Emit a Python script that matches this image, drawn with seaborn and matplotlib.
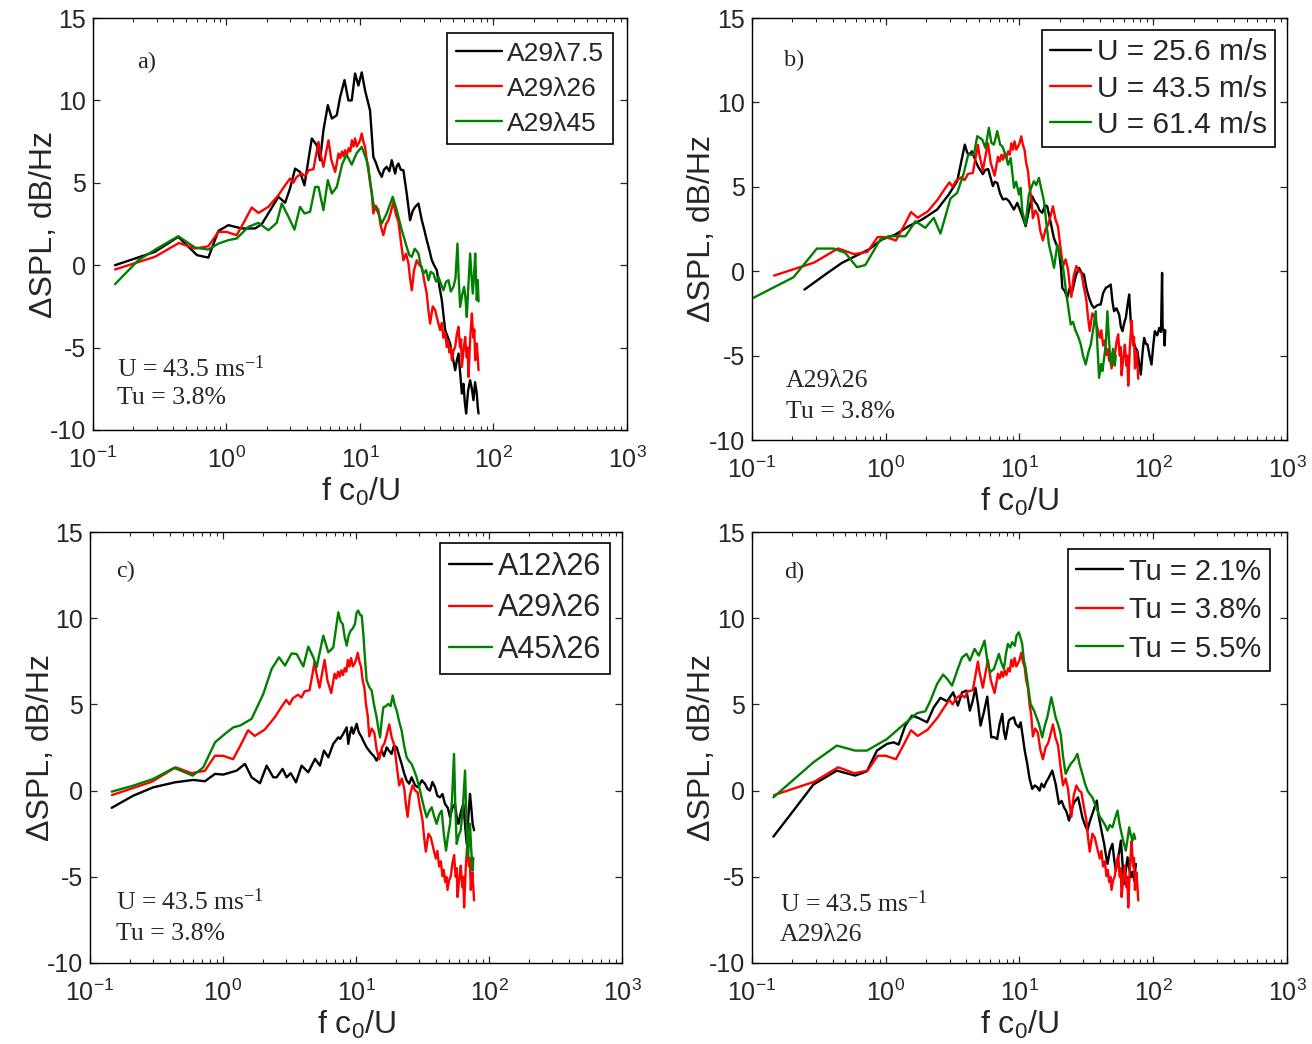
import numpy as np
import pandas as pd
import matplotlib
matplotlib.use("Agg")
import matplotlib.pyplot as plt
import seaborn as sns
from matplotlib.ticker import LogLocator, NullFormatter, FixedLocator
from matplotlib.lines import Line2D

# ---------------- data: (log10(f c0/U), dSPL dB/Hz) ----------------
# A29 lambda26, U = 43.5 m/s, Tu = 3.8 %  (same curve in all four panels)
red_base = [(-0.835,-0.26),(-0.536,0.51),(-0.356,1.35),(-0.236,1.01),(-0.136,1.15),(-0.061,2.02),(0.0,2.02),
    (0.076,1.82),(0.13,2.6),(0.189,3.5),(0.239,3.17),(0.314,3.54),(0.389,4.25),(0.439,4.85),(0.476,5.26),(0.50,5.0),
    (0.526,5.36),(0.564,5.56),(0.59,5.4),(0.614,5.76),(0.651,5.82),(0.689,7.48),(0.70,6.9),(0.726,5.97),(0.745,6.8),
    (0.764,7.58),(0.785,6.4),(0.814,5.66),(0.839,6.78),(0.852,6.5),(0.865,6.9),(0.877,6.6),(0.889,6.98),(0.902,6.7),
    (0.915,7.1),(0.927,6.9),(0.939,7.58),(0.951,7.2),(0.963,7.69),(0.976,7.2),(0.989,7.38),(1.001,7.6),(1.013,7.99),
    (1.025,7.5),(1.038,7.18),(1.05,6.4),(1.063,5.97),(1.075,5.0),(1.088,4.35),(1.100,3.14),(1.118,3.6),(1.138,3.34),
    (1.155,2.4),(1.175,1.82),(1.195,2.5),(1.213,2.73),(1.230,3.2),(1.250,3.84),(1.268,3.1),(1.288,2.63),(1.305,1.5),
    (1.325,0.30),(1.345,0.7),(1.363,0.10),(1.375,-0.8),(1.388,-1.52),(1.405,-0.3),(1.425,0.30),(1.445,0.0),
    (1.463,-0.10),(1.480,-0.9),(1.500,-1.72),(1.512,-2.7),(1.525,-3.54),(1.545,-2.5),(1.563,-2.73),(1.580,-3.3),
    (1.600,-3.94),(1.612,-3.5),(1.625,-4.4),(1.638,-4.1),(1.650,-4.96),(1.660,-4.6),(1.670,-5.3),(1.680,-5.0),
    (1.688,-5.76),(1.700,-5.2),(1.713,-4.96),(1.725,-4.2),(1.738,-3.74),(1.745,-4.6),(1.750,-5.0),(1.757,-4.5),
    (1.763,-6.17),(1.775,-5.2),(1.788,-4.35),(1.794,-5.1),(1.800,-5.6),(1.806,-5.0),(1.813,-6.78),(1.825,-4.5),
    (1.838,-2.93),(1.844,-3.8),(1.850,-4.4),(1.856,-3.9),(1.863,-5.76),(1.875,-4.75),(1.882,-5.6),(1.888,-6.37)]

# panel a) A29 lambda7.5 and A29 lambda45
a_lam75 = [(-0.835,0.0),(-0.536,0.81),(-0.361,1.72),(-0.221,0.61),(-0.136,0.46),(-0.061,2.08),(0.014,2.43),
    (0.114,2.23),(0.214,2.23),(0.264,2.49),(0.389,4.15),(0.439,3.79),(0.476,4.66),(0.514,5.86),(0.551,5.66),
    (0.584,4.85),(0.619,6.67),(0.639,7.69),(0.676,7.28),(0.701,6.37),(0.726,8.19),(0.759,9.71),(0.789,8.9),
    (0.826,9.1),(0.851,10.2),(0.884,11.23),(0.913,10.0),(0.938,10.0),(0.963,11.63),(0.988,10.9),(1.013,11.7),
    (1.038,10.6),(1.075,9.4),(1.100,6.57),(1.120,6.2),(1.138,5.76),(1.163,5.36),(1.180,5.8),(1.200,5.97),
    (1.220,5.7),(1.238,6.37),(1.263,5.56),(1.275,6.0),(1.288,6.17),(1.305,5.8),(1.325,5.76),(1.350,4.35),
    (1.375,2.73),(1.395,3.3),(1.413,3.54),(1.438,3.74),(1.463,2.73),(1.480,2.2),(1.500,1.52),(1.520,0.9),
    (1.538,0.30),(1.555,0.0),(1.575,-0.30),(1.595,-1.3),(1.613,-2.12),(1.625,-3.0),(1.638,-3.94),(1.655,-4.3),
    (1.675,-4.75),(1.695,-5.6),(1.713,-6.37),(1.725,-5.8),(1.738,-5.36),(1.750,-6.5),(1.763,-7.79),(1.775,-7.2),
    (1.785,-8.3),(1.795,-9.0),(1.810,-7.6),(1.825,-6.98),(1.838,-7.5),(1.850,-8.19),(1.862,-7.1),(1.875,-7.79),
    (1.882,-8.6),(1.888,-9.0)]
a_lam45 = [(-0.835,-1.15),(-0.661,0.30),(-0.521,1.01),(-0.361,1.76),(-0.236,1.07),(-0.136,0.95),(-0.061,1.31),
    (0.014,1.52),(0.076,1.62),(0.164,2.33),(0.239,2.57),(0.314,2.12),(0.376,2.57),(0.414,3.74),(0.464,2.94),
    (0.509,2.16),(0.551,3.54),(0.584,3.14),(0.626,3.24),(0.664,4.75),(0.689,4.75),(0.726,3.34),(0.759,5.16),
    (0.789,4.35),(0.826,4.75),(0.868,6.17),(0.900,6.7),(0.938,6.1),(0.975,6.8),(1.013,7.18),(1.050,6.37),
    (1.075,5.16),(1.100,3.74),(1.138,3.14),(1.163,2.53),(1.200,3.14),(1.245,4.15),(1.275,3.34),(1.313,2.12),
    (1.350,1.11),(1.370,0.6),(1.388,0.51),(1.410,1.0),(1.438,0.71),(1.455,0.0),(1.475,-0.51),(1.495,-0.3),
    (1.513,-0.91),(1.530,-0.4),(1.550,-0.51),(1.570,-1.0),(1.588,-0.71),(1.605,-1.1),(1.625,-1.52),(1.645,-1.0),
    (1.663,-0.91),(1.680,-1.6),(1.700,-1.31),(1.715,-0.8),(1.730,1.31),(1.740,-0.9),(1.750,-2.53),(1.765,-1.8),
    (1.780,-1.31),(1.790,-2.0),(1.800,-3.14),(1.812,-1.2),(1.825,0.71),(1.835,-0.6),(1.845,-1.72),(1.855,-0.5),
    (1.863,0.71),(1.870,-1.0),(1.875,-2.12),(1.882,-0.9),(1.888,-2.2)]

# panel b) U = 25.6 m/s and U = 61.4 m/s
b_u256 = [(-0.608,-1.09),(-0.453,-0.20),(-0.328,0.49),(-0.228,0.89),(-0.128,1.28),(-0.028,1.88),(0.072,2.17),
    (0.172,2.67),(0.271,3.06),(0.384,3.65),(0.471,4.54),(0.534,5.33),(0.591,7.5),(0.61,7.0),(0.626,6.93),
    (0.645,7.1),(0.671,6.54),(0.69,6.2),(0.726,5.75),(0.745,6.0),(0.766,6.05),(0.785,5.5),(0.801,5.04),(0.815,5.3),
    (0.834,5.23),(0.855,4.6),(0.876,4.25),(0.90,4.3),(0.921,4.15),(0.94,3.9),(0.958,3.65),(0.983,4.05),(1.0,3.7),
    (1.021,3.26),(1.046,2.67),(1.07,3.6),(1.095,4.44),(1.115,4.1),(1.132,3.95),(1.150,3.6),(1.170,3.46),(1.190,3.9),
    (1.207,3.85),(1.230,3.0),(1.257,1.97),(1.275,1.6),(1.295,1.18),(1.310,0.2),(1.320,-0.99),(1.340,-1.2),
    (1.357,-1.58),(1.375,-1.0),(1.395,-1.18),(1.420,-0.3),(1.445,0.20),(1.465,-0.1),(1.482,-0.2),(1.50,-1.0),
    (1.520,-1.58),(1.540,-2.0),(1.557,-2.17),(1.585,-2.0),(1.607,-1.97),(1.625,-1.3),(1.645,-0.99),(1.665,-0.9),
    (1.682,-0.79),(1.695,-1.8),(1.707,-2.37),(1.725,-2.2),(1.745,-2.57),(1.758,-3.3),(1.770,-3.55),(1.785,-3.0),
    (1.795,-2.76),(1.808,-2.0),(1.820,-1.38),(1.832,-3.0),(1.845,-3.95),(1.865,-4.5),(1.882,-4.74),(1.895,-5.5),
    (1.907,-6.12),(1.92,-4.8),(1.932,-3.95),(1.945,-4.3),(1.957,-4.34),(1.972,-5.0),(1.987,-5.53),(2.000,-4.4),
    (2.012,-3.55),(2.030,-3.8),(2.045,-3.36),(2.058,-3.6),(2.066,-0.1),(2.070,-3.3),(2.080,-3.6),(2.085,-4.4),
    (2.09,-3.5)]
b_u614 = [(-0.99,-1.58),(-0.690,-0.36),(-0.515,1.34),(-0.390,1.34),(-0.303,1.09),(-0.216,0.24),(-0.153,0.36),
    (-0.041,1.88),(0.022,2.07),(0.147,2.07),(0.222,2.96),(0.296,2.57),(0.359,3.16),(0.409,2.23),(0.484,4.31),
    (0.534,4.64),(0.584,5.82),(0.616,6.9),(0.659,6.9),(0.684,8.0),(0.721,7.8),(0.746,7.3),(0.771,8.5),(0.79,7.6),
    (0.809,7.5),(0.834,8.3),(0.855,7.5),(0.871,7.4),(0.896,6.9),(0.915,6.3),(0.934,6.7),(0.959,4.94),(0.975,5.3),
    (0.996,4.54),(1.008,4.94),(1.021,3.56),(1.045,2.76),(1.070,4.54),(1.090,5.0),(1.108,5.33),(1.125,5.1),
    (1.145,5.53),(1.165,4.8),(1.183,4.15),(1.20,2.9),(1.220,1.58),(1.240,0.9),(1.258,0.2),(1.283,1.58),(1.300,1.0),
    (1.320,0.59),(1.340,-0.7),(1.358,-1.78),(1.383,-3.16),(1.40,-3.0),(1.420,-3.55),(1.440,-3.9),(1.458,-4.34),
    (1.475,-5.0),(1.495,-5.53),(1.515,-4.8),(1.533,-4.34),(1.550,-3.5),(1.570,-2.37),(1.583,-4.5),(1.595,-6.32),
    (1.610,-5.5),(1.620,-5.92),(1.635,-5.0),(1.645,-4.34),(1.657,-2.37),(1.670,-4.2),(1.683,-5.53),(1.70,-4.6),
    (1.712,-5.6),(1.72,-5.0)]

# panel c) A12 lambda26 and A45 lambda26
c_a12 = [(-0.837,-1.0),(-0.674,-0.29),(-0.524,0.19),(-0.361,0.48),(-0.223,0.62),(-0.136,0.54),(-0.060,0.97),
    (0.002,0.93),(0.103,1.16),(0.165,1.55),(0.215,0.77),(0.278,0.43),(0.328,1.45),(0.378,0.77),(0.403,0.77),
    (0.448,1.26),(0.478,0.77),(0.509,1.01),(0.549,0.48),(0.591,1.45),(0.641,1.06),(0.692,1.84),(0.729,1.45),
    (0.759,2.32),(0.792,1.93),(0.829,2.71),(0.867,3.09),(0.880,3.0),(0.904,3.29),(0.930,3.67),(0.942,2.71),
    (0.955,3.3),(0.967,3.67),(0.980,3.3),(1.005,3.87),(1.020,3.4),(1.043,3.09),(1.060,2.8),(1.080,2.51),(1.100,2.3),
    (1.118,2.13),(1.135,2.0),(1.155,1.74),(1.175,2.1),(1.193,2.32),(1.210,2.0),(1.231,2.51),(1.250,2.3),
    (1.268,2.13),(1.285,2.6),(1.306,2.51),(1.325,2.0),(1.343,1.55),(1.362,1.0),(1.381,0.58),(1.400,0.4),
    (1.418,0.77),(1.445,0.3),(1.468,0.19),(1.495,0.6),(1.519,0.39),(1.538,0.1),(1.556,0.0),(1.575,0.5),
    (1.594,0.19),(1.612,-0.3),(1.631,-0.39),(1.650,-0.2),(1.669,-0.77),(1.690,-1.0),(1.707,-1.55),(1.725,-1.0),
    (1.744,-0.77),(1.757,-1.5),(1.770,-1.93),(1.790,-1.2),(1.807,-0.77),(1.820,-2.0),(1.832,-3.09),(1.845,-1.5),
    (1.857,-0.19),(1.867,-1.0),(1.877,-1.93),(1.888,-2.3)]
c_a45 = [(-0.837,-0.06),(-0.674,0.29),(-0.524,0.68),(-0.368,1.32),(-0.228,0.87),(-0.148,1.35),(-0.060,2.8),
    (0.015,3.29),(0.078,3.67),(0.128,3.77),(0.215,4.16),(0.303,5.61),(0.366,7.06),(0.421,7.73),(0.466,7.25),
    (0.516,7.96),(0.554,7.92),(0.604,7.2),(0.641,8.35),(0.679,7.73),(0.704,7.16),(0.754,8.99),(0.792,8.02),
    (0.829,8.3),(0.867,10.34),(0.885,9.8),(0.900,9.66),(0.915,8.9),(0.930,8.41),(0.945,9.0),(0.960,9.28),
    (0.975,9.4),(0.992,9.66),(1.005,10.34),(1.017,10.44),(1.030,10.2),(1.043,10.15),(1.055,9.09),(1.068,7.6),
    (1.080,6.38),(1.100,6.0),(1.118,5.8),(1.135,5.0),(1.155,4.25),(1.168,3.6),(1.181,3.09),(1.195,4.2),
    (1.206,4.83),(1.225,4.9),(1.243,5.03),(1.260,4.9),(1.276,5.51),(1.290,5.0),(1.306,4.64),(1.325,4.0),
    (1.343,3.48),(1.362,2.6),(1.381,1.93),(1.400,1.7),(1.418,1.55),(1.436,1.2),(1.456,0.77),(1.475,0.2),
    (1.493,-0.39),(1.512,-1.0),(1.531,-1.55),(1.550,-1.2),(1.569,-0.97),(1.588,-1.5),(1.606,-1.93),(1.625,-1.4),
    (1.644,-1.16),(1.660,-2.5),(1.677,-3.48),(1.692,-2.6),(1.707,-1.93),(1.722,-0.5),(1.737,2.13),(1.747,-1.0),
    (1.757,-3.09),(1.772,-2.6),(1.787,-2.32),(1.803,-1.0),(1.820,1.16),(1.830,-1.5),(1.840,-3.87),(1.850,-3.0),
    (1.857,-1.93),(1.867,-3.5),(1.877,-4.64),(1.882,-3.9)]

# panel d) Tu = 2.1 % and Tu = 5.5 %
d_tu21 = [(-0.840,-2.67),(-0.690,-1.16),(-0.541,0.35),(-0.366,1.16),(-0.229,0.87),(-0.141,1.12),(-0.066,2.32),
    (0.009,2.71),(0.059,2.8),(0.096,2.67),(0.146,3.77),(0.196,4.35),(0.246,4.21),(0.309,3.96),(0.359,4.83),
    (0.409,5.38),(0.459,5.18),(0.504,5.7),(0.539,4.93),(0.571,5.7),(0.604,5.8),(0.629,4.64),(0.650,5.2),
    (0.671,5.96),(0.690,5.0),(0.709,3.77),(0.735,4.6),(0.759,5.45),(0.775,4.2),(0.789,3.09),(0.810,3.1),
    (0.833,2.99),(0.850,3.8),(0.871,4.45),(0.883,3.48),(0.896,2.99),(0.920,4.06),(0.933,4.16),(0.958,4.25),
    (0.971,3.87),(0.995,3.67),(1.009,3.96),(1.025,3.1),(1.039,2.32),(1.058,1.55),(1.075,0.7),(1.095,0.10),
    (1.115,0.3),(1.133,0.19),(1.150,0.0),(1.165,0.4),(1.183,0.19),(1.200,0.5),(1.220,0.77),(1.245,1.16),
    (1.270,0.39),(1.295,-0.77),(1.315,-0.6),(1.333,-0.97),(1.350,-1.2),(1.370,-1.74),(1.390,-1.1),(1.408,-0.68),
    (1.438,-0.39),(1.455,-1.0),(1.470,-1.55),(1.490,-2.0),(1.508,-2.32),(1.525,-1.8),(1.545,-1.35),(1.560,-1.0),
    (1.578,-0.58),(1.590,-1.4),(1.608,-2.13),(1.620,-2.6),(1.633,-3.09),(1.645,-3.7),(1.658,-4.25),(1.675,-3.5),
    (1.695,-3.09),(1.708,-4.0),(1.720,-4.64),(1.740,-3.8),(1.758,-2.9),(1.770,-4.2),(1.783,-5.41),(1.795,-4.6),
    (1.808,-3.87),(1.820,-4.5),(1.833,-5.03),(1.845,-4.7),(1.858,-5.22),(1.870,-4.25)]
d_tu55 = [(-0.840,-0.39),(-0.541,1.64),(-0.366,2.61),(-0.229,2.32),(-0.141,2.32),(0.009,2.99),(0.109,3.67),
    (0.234,4.49),(0.296,4.6),(0.334,5.22),(0.384,6.19),(0.429,6.73),(0.459,6.48),(0.496,6.09),(0.534,6.96),
    (0.571,7.73),(0.604,7.93),(0.629,7.54),(0.664,8.22),(0.696,7.83),(0.739,8.7),(0.760,7.5),(0.779,6.86),
    (0.809,7.06),(0.846,7.93),(0.865,7.4),(0.883,7.06),(0.900,8.0),(0.913,8.51),(0.930,8.3),(0.946,8.61),
    (0.965,8.4),(0.978,8.99),(0.995,9.18),(1.010,8.8),(1.020,8.51),(1.033,7.54),(1.045,7.16),(1.065,6.0),
    (1.083,5.03),(1.108,4.64),(1.125,4.3),(1.145,3.87),(1.170,3.09),(1.190,3.8),(1.208,4.25),(1.238,5.41),
    (1.255,4.8),(1.270,4.25),(1.290,3.8),(1.308,3.29),(1.325,2.0),(1.345,0.97),(1.365,1.3),(1.383,1.55),
    (1.410,1.8),(1.433,2.13),(1.450,1.5),(1.470,0.97),(1.490,0.4),(1.508,0.0),(1.525,-0.2),(1.545,-0.39),
    (1.565,-0.8),(1.583,-1.16),(1.600,-1.5),(1.620,-1.74),(1.640,-2.0),(1.658,-2.32),(1.675,-2.0),(1.695,-2.13),
    (1.715,-1.6),(1.733,-1.16),(1.745,-1.8),(1.758,-2.32),(1.775,-2.9),(1.795,-3.48),(1.808,-2.8),(1.820,-2.13),
    (1.833,-2.6),(1.845,-2.9),(1.855,-2.5),(1.865,-2.8)]

legend_a = ["A29λ7.5", "A29λ26", "A29λ45"]
legend_b = ["U = 25.6 m/s", "U = 43.5 m/s", "U = 61.4 m/s"]
legend_c = ["A12λ26", "A29λ26", "A45λ26"]
legend_d = ["Tu = 2.1%", "Tu = 3.8%", "Tu = 5.5%"]
colors = ["black", "#ff0000", "#008000"]

xticks = [0.1, 1, 10, 100, 1000]
yticks = [-10, -5, 0, 5, 10, 15]

# ---------------- style ----------------
sns.set_theme(style="ticks")
plt.rcParams['font.family'] = ['Liberation Sans', 'DejaVu Sans']
plt.rcParams['mathtext.default'] = 'regular'
plt.rcParams['axes.unicode_minus'] = False

fig = plt.figure(figsize=(13.12, 10.44), dpi=100)

W, H = 1312.0, 1044.0
def rect(l, r, t, b):
    return [l / W, 1 - b / H, (r - l) / W, (b - t) / H]

panels = [
    dict(rect=rect(93, 627, 18, 430), series=[a_lam75, red_base, a_lam45], labels=legend_a,
         leg=dict(anchor=(0.974, 0.964), fs=19, hl=1.75, ls=0.42, bp=0.33),
         letter=("a)", 0.082, 0.893), ylab_x=-0.092,
         notes=[("U = 43.5 ms$^{-1}$", 0.045, 0.150), ("Tu = 3.8%", 0.045, 0.078)]),
    dict(rect=rect(752, 1287, 18, 440), series=[b_u256, red_base, b_u614], labels=legend_b,
         leg=dict(anchor=(0.978, 0.972), fs=21.5, hl=1.35, ls=0.28, bp=0.28),
         letter=("b)", 0.060, 0.900), ylab_x=-0.094,
         notes=[("A29λ26", 0.064, 0.140), ("Tu = 3.8%", 0.064, 0.066)]),
    dict(rect=rect(90, 622, 532, 963), series=[c_a12, red_base, c_a45], labels=legend_c,
         leg=dict(anchor=(0.977, 0.974), fs=22, hl=1.4, ls=0.38, bp=0.28),
         letter=("c)", 0.049, 0.909), ylab_x=-0.092,
         notes=[("U = 43.5 ms$^{-1}$", 0.049, 0.142), ("Tu = 3.8%", 0.049, 0.067)]),
    dict(rect=rect(752, 1287, 532, 963), series=[d_tu21, red_base, d_tu55], labels=legend_d,
         leg=dict(anchor=(0.968, 0.961), fs=21, hl=1.6, ls=0.36, bp=0.3),
         letter=("d)", 0.060, 0.906), ylab_x=-0.094,
         notes=[("U = 43.5 ms$^{-1}$", 0.052, 0.138), ("A29λ26", 0.052, 0.064)]),
]

serif = ['Liberation Serif', 'DejaVu Serif']

for p in panels:
    ax = fig.add_axes(p["rect"])
    for ser, lab, col in zip(p["series"], p["labels"], colors):
        lx = np.array([q[0] for q in ser])
        yv = np.array([q[1] for q in ser])
        df = pd.DataFrame({"f": np.power(10.0, lx), "dspl": yv})
        sns.lineplot(data=df, x="f", y="dspl", ax=ax, color=col, linewidth=1.7,
                     sort=False, estimator=None, label=lab, legend=False)
    ax.set_xscale("log")
    ax.set_xlim(0.1, 1000)
    ax.set_ylim(-10, 15)
    ax.xaxis.set_major_locator(FixedLocator(xticks))
    ax.xaxis.set_minor_locator(LogLocator(base=10, subs=np.arange(2, 10), numticks=20))
    ax.xaxis.set_minor_formatter(NullFormatter())
    ax.set_yticks(yticks)
    ax.set_xticklabels([r"$10^{%d}$" % int(np.log10(v)) for v in xticks])
    ax.tick_params(axis="both", which="major", direction="in", length=5, width=0.9,
                   top=True, right=True, labelsize=18)
    ax.tick_params(axis="x", which="major", pad=12)
    ax.tick_params(axis="y", which="major", pad=5)
    ax.tick_params(axis="both", which="minor", direction="in", length=3, width=0.8,
                   top=True, right=True)
    for s in ax.spines.values():
        s.set_linewidth(1.0)
        s.set_color("black")
    ax.set_xlabel("f c$_0$/U", fontsize=23, labelpad=2)
    ax.set_ylabel("ΔSPL, dB/Hz", fontsize=23)
    ax.yaxis.label.set_va("center")
    ax.yaxis.set_label_coords(p["ylab_x"], 0.5)

    handles = [Line2D([], [], color=c, lw=1.7) for c in colors]
    lg = p["leg"]
    leg = ax.legend(handles, p["labels"], loc="upper right", bbox_to_anchor=lg["anchor"],
                    fontsize=lg["fs"], frameon=True, fancybox=False, framealpha=1,
                    edgecolor="black", borderaxespad=0, handlelength=lg["hl"], handletextpad=0.2,
                    labelspacing=lg["ls"], borderpad=lg["bp"])
    leg.get_frame().set_linewidth(1.2)

    t, x, y = p["letter"]
    ax.text(x, y, t, transform=ax.transAxes, fontsize=17.5, family=serif, va="center", ha="left")
    for t, x, y in p["notes"]:
        ax.text(x, y, t, transform=ax.transAxes, fontsize=18.5, family=serif, va="center", ha="left")

fig.savefig("out.png", dpi=100)
